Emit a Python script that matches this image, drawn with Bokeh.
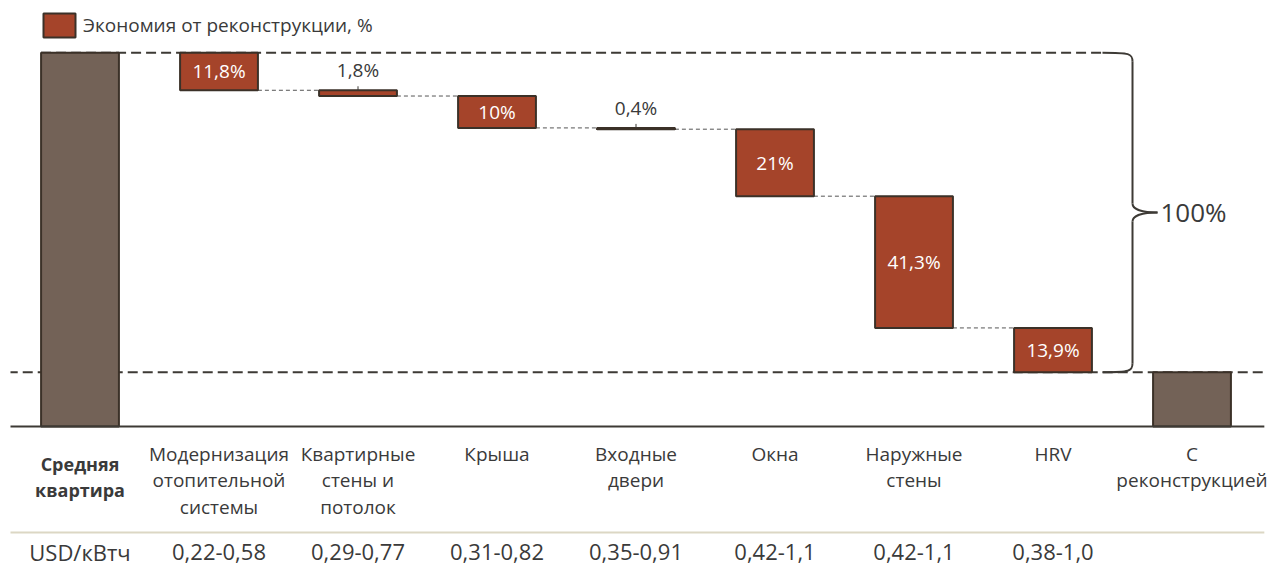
from bokeh.plotting import figure
from bokeh.models import Range1d, ColumnDataSource, Legend, LegendItem
from bokeh.embed import file_html
from bokeh.resources import INLINE
from bokeh.core.properties import value

# ---------------- data ----------------
categories = ["Средняя\nквартира", "Модернизация\nотопительной\nсистемы", "Квартирные\nстены и\nпотолок",
              "Крыша", "Входные\nдвери", "Окна", "Наружные\nстены", "HRV", "С\nреконструкцией"]
start_value = 117.2          # bar "Средняя квартира" (relative units, savings part = 100)
savings = [11.8, 1.8, 10.0, 0.4, 21.0, 41.3, 13.9]
saving_labels = ["11,8%", "1,8%", "10%", "0,4%", "21%", "41,3%", "13,9%"]
usd_row_label = "USD/кВтч"
usd_ranges = ["0,22-0,58", "0,29-0,77", "0,31-0,82", "0,35-0,91", "0,42-1,1", "0,42-1,1", "0,38-1,0"]
total_label = "100%"
legend_label = "Экономия от реконструкции, %"

# ---------------- derived ----------------
n = len(categories)
tops, bottoms = [], []
level = start_value
for s in savings:
    tops.append(level)
    bottoms.append(level - s)
    level -= s
final_value = level
save_x = list(range(1, len(savings) + 1))

FONT = "Open Sans"
ORANGE = "#A5442A"
GREY = "#736257"
EDGE = "#3b3128"
DARK = "#3d3a35"
TXT = "#3a3a3a"
BW = 0.56

PXX = 1 / 139.0    # data units per pixel (x)
PXY = 1 / 3.19     # data units per pixel (y)
y_top = 418 * PXY
y_bot = -139 * PXY
x_end = -0.5 + 1258 * PXX

p = figure(width=1268, height=565, x_range=Range1d(-0.5, x_end), y_range=Range1d(y_bot, y_top),
           output_backend="svg", toolbar_location=None, min_border_left=10, min_border_right=0,
           min_border_top=8, min_border_bottom=0, outline_line_color=None)
p.axis.visible = False
p.grid.visible = False
p.background_fill_color = "white"

# dashed reference lines (start and final levels)
brace_x = 7.572
brace_start = brace_x - 0.216
p.line([-BW / 2, brace_start], [start_value, start_value], line_color=DARK, line_width=2, line_dash="10 5")
p.line([-0.52, x_end - 0.03], [final_value, final_value], line_color=DARK, line_width=2, line_dash="10 5")

# connectors between savings bars
for i in range(len(savings) - 1):
    p.line([save_x[i] + BW / 2, save_x[i + 1] - BW / 2], [bottoms[i], bottoms[i]],
           line_color="#555555", line_width=1, line_dash="4 3")

# total bars
p.vbar(x=[0, n - 1], top=[start_value, final_value], bottom=0, width=BW,
       fill_color=GREY, line_color=EDGE, line_width=2)

# savings bars
src = ColumnDataSource(dict(x=save_x, top=tops, bottom=bottoms))
r_save = p.vbar(x="x", top="top", bottom="bottom", width=BW, source=src,
                fill_color=ORANGE, line_color=EDGE, line_width=2)

# savings labels
for x, t, b, s, lab in zip(save_x, tops, bottoms, savings, saving_labels):
    if s >= 5:
        p.text([x], [(t + b) / 2], text=[lab], text_color="white", text_font=value(FONT),
               text_font_size="19px", text_align="center", text_baseline="middle")
    else:
        p.segment([x], [t], [x], [t + 4 * PXY], line_color=DARK, line_width=1)
        p.text([x], [t + 7 * PXY], text=[lab], text_color=TXT, text_font=value(FONT),
               text_font_size="19px", text_align="center", text_baseline="bottom")

# baseline and separator
p.line([-0.52, x_end - 0.03], [0, 0], line_color=DARK, line_width=2)
p.line([-0.52, x_end - 0.03], [-106 * PXY, -106 * PXY], line_color="#dcd7c4", line_width=2)

# brace with 100%
y_mid = (start_value + final_value) / 2
d = 9 * PXY
tip = brace_x + 25 * PXX
p.bezier(x0=[brace_start, brace_x, tip, brace_x],
         y0=[start_value, y_mid + d, y_mid, final_value + d],
         x1=[brace_x, tip, brace_x, brace_start],
         y1=[start_value - d, y_mid, y_mid - d, final_value],
         cx0=[brace_x - 0.02, brace_x, brace_x + 0.07, brace_x],
         cy0=[start_value, y_mid + 1.0, y_mid, final_value + 0.3],
         cx1=[brace_x, brace_x + 0.07, brace_x, brace_x - 0.02],
         cy1=[start_value - 0.3, y_mid, y_mid - 1.0, final_value],
         line_color=DARK, line_width=2)
p.segment([brace_x, brace_x], [start_value - d, y_mid - d], [brace_x, brace_x], [y_mid + d, final_value + d],
          line_color=DARK, line_width=2)
p.text([tip + 3 * PXX], [y_mid], text=[total_label], text_color=TXT, text_font=value(FONT),
       text_font_size="26px", text_align="left", text_baseline="middle")

# category labels
p.text([0], [-25 * PXY], text=[categories[0]], text_color=TXT, text_font=value(FONT),
       text_font_size="18px", text_font_style="bold", text_align="center", text_baseline="top",
       text_line_height=1.1)
p.text(list(range(1, n)), [-14 * PXY] * (n - 1), text=categories[1:], text_color=TXT, text_font=value(FONT),
       text_font_size="19px", text_align="center", text_baseline="top", text_line_height=1.03)

# USD row
p.text(list(range(0, len(usd_ranges) + 1)), [-125 * PXY] * (len(usd_ranges) + 1),
       text=[usd_row_label] + usd_ranges, text_color=TXT, text_font=value(FONT),
       text_font_size="22px", text_align="center", text_baseline="middle")

# legend
legend = Legend(items=[LegendItem(label=legend_label, renderers=[r_save])], location=(29, 525),
                padding=0, margin=0, spacing=0, label_standoff=4, glyph_width=40, glyph_height=30,
                label_height=30, border_line_color=None, background_fill_alpha=0,
                label_text_font=FONT, label_text_font_size="19px", label_text_color=TXT)
p.add_layout(legend)

open("out.html", "w").write(file_html(p, INLINE))
